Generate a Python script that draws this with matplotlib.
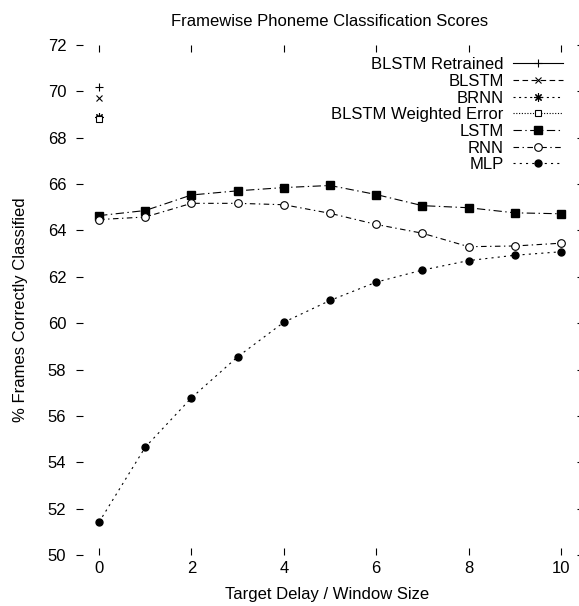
import matplotlib
matplotlib.use("Agg")
import matplotlib.pyplot as plt

plt.rcParams['font.family'] = ['Liberation Sans', 'DejaVu Sans']
plt.rcParams['lines.scale_dashes'] = False

delay = [0, 1, 2, 3, 4, 5, 6, 7, 8, 9, 10]
blstm_retrained = [70.2]
blstm = [69.7]
brnn = [68.9]
blstm_weighted = [68.8]
lstm = [64.64, 64.86, 65.53, 65.71, 65.85, 65.94, 65.55, 65.07, 64.98, 64.76, 64.72]
rnn = [64.47, 64.58, 65.17, 65.17, 65.11, 64.74, 64.26, 63.88, 63.30, 63.33, 63.45]
mlp = [51.42, 54.65, 56.78, 58.55, 60.04, 60.98, 61.77, 62.29, 62.70, 62.93, 63.08]

fig = plt.figure(figsize=(5.79, 6.06), dpi=100)
ax = fig.add_axes([76/579, 1-555/606, 508/579, 510/606])

ax.plot(delay[:1], blstm_retrained, ls='-', marker='+', ms=6, mew=0.8, color='black', lw=0.8, label='BLSTM Retrained')
ax.plot(delay[:1], blstm, ls=(0, (4, 2.5)), marker='x', ms=5, mew=0.8, color='black', lw=0.8, label='BLSTM')
ax.plot(delay[:1], brnn, ls=(0, (1.5, 2.5)), marker=(8, 2, 0), ms=6, mew=0.8, color='black', lw=0.8, label='BRNN')
ax.plot(delay[:1], blstm_weighted, ls=(0, (0.8, 1.2)), marker='s', ms=5, mew=0.8, mfc='white', mec='black', color='black', lw=0.8, label='BLSTM Weighted Error')
ax.plot(delay, lstm, ls=(0, (6, 2.5, 1, 2.5)), marker='s', ms=5.5, label='LSTM', color='black', lw=0.8)
ax.plot(delay, rnn, ls=(0, (4, 2.5, 1, 2.5)), marker='o', ms=5.5, mfc='white', mec='black', mew=0.8, label='RNN', color='black', lw=0.8)
ax.plot(delay, mlp, ls=(0, (1.5, 3)), marker='o', ms=5, label='MLP', color='black', lw=0.8)

ax.set_xlim(-0.5, 10.5)
ax.set_ylim(50, 72)
ax.set_xticks(range(0, 11, 2))
ax.set_yticks(range(50, 73, 2))
for s in ax.spines.values():
    s.set_visible(False)
ax.tick_params(axis='both', direction='in', length=5, width=0.8, labelsize=12,
               top=True, right=True)
ax.tick_params(axis='x', pad=4)
ax.tick_params(axis='y', pad=7)

leg = ax.legend(loc='upper right', bbox_to_anchor=(0.9587, 0.976), frameon=False,
                markerfirst=False, fontsize=12, handlelength=3.0, handletextpad=0.55,
                labelspacing=0.1, borderpad=0, borderaxespad=0)
for t in leg.get_texts():
    t.set_ha('right')

fig.text(330/579, 1-22/606, 'Framewise Phoneme Classification Scores', ha='center', va='center', fontsize=12)
fig.text(327/579, 1-594/606, 'Target Delay / Window Size', ha='center', va='center', fontsize=12)
fig.text(21/579, 1-310/606, '% Frames Correctly Classified', ha='center', va='center', rotation=90, fontsize=12)

fig.savefig('out.png', dpi=100)
